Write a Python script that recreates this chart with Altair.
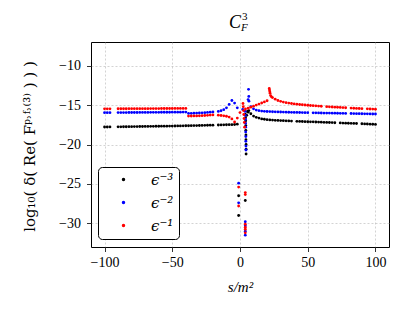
import altair as alt
import pandas as pd

SERIES = ["ϵ⁻³", "ϵ⁻²", "ϵ⁻¹"]
COLORS = ["#000000", "#0000ff", "#ff0000"]

# main sampling grid s/m^2 = -100 .. 100 (step 2)
X_MAIN = list(range(-100, 101, 2))

N = None
BLACK = [
    -17.78, -17.78, -17.77, N, N, -17.76, -17.76, -17.75, -17.75, -17.74,
    -17.74, -17.73, -17.73, -17.72, -17.72, -17.71, -17.71, -17.70, -17.70, -17.69,
    -17.69, -17.68, -17.67, -17.67, -17.66, -17.66, -17.65, -17.64, -17.64, -17.63,
    -17.62, -17.62, -17.61, -17.60, -17.60, -17.59, -17.58, -17.57, -17.56, -17.55,
    -17.55, N, -17.53, -17.52, -17.51, -17.50, -17.49, -17.48, -17.46, -17.42,
    N, N, N,
    -15.90, -16.10, -16.40, -16.55, -16.65, -16.75, -16.80, -16.85, -16.88, -16.90,
    -16.93, -16.95, -16.97, -16.98, -17.00, -17.01, -17.03, N, -17.06, -17.07,
    -17.08, -17.10, -17.11, -17.12, -17.13, -17.15, -17.16, -17.17, -17.19, -17.20,
    -17.21, -17.22, -17.24, N, -17.26, -17.28, -17.29, -17.30, -17.32, -17.33,
    -17.34, N, -17.37, -17.39, -17.40, -17.42, -17.43, -17.45,
]
BLUE = [
    -15.96, -15.96, -15.96, N, N, -15.95, -15.95, -15.95, -15.95, -15.94,
    -15.94, -15.94, -15.94, -15.93, -15.93, -15.93, -15.93, -15.92, -15.92, -15.92,
    -15.92, -15.91, -15.91, -15.91, -15.91, -15.90, -15.90, -15.90, -15.90, -15.89,
    -15.89, -16.06, -16.05, -16.03, -16.02, -16.00, -15.98, -15.96, -15.93, -15.90,
    -15.87, N, -15.80, -15.72, -15.58, -15.35, -14.92, -14.42, -14.75, -15.35,
    N, -15.55, N,
    -14.30, -15.20, -15.48, -15.63, -15.71, -15.76, -15.79, -15.81, -15.83, -15.85,
    -15.86, -15.87, -15.88, -15.89, -15.90, -15.91, -15.92, -15.93, -15.93, -15.94,
    -15.95, -15.96, -15.96, N, -15.98, -15.98, -15.99, -16.00, -16.01, -16.01,
    -16.02, -16.03, -16.03, -16.04, -16.05, -16.05, -16.06, N, -16.07, -16.08,
    -16.09, -16.09, -16.10, -16.11, -16.11, -16.12, -16.13, -16.13,
]
RED = [
    -15.48, -15.48, -15.48, N, N, -15.47, -15.47, -15.47, -15.47, -15.46,
    -15.46, -15.46, -15.46, -15.45, -15.45, -15.45, -15.45, -15.44, -15.44, -15.44,
    -15.44, -15.43, -15.43, -15.43, -15.43, -15.43, -15.42, -15.42, -15.42, -15.42,
    -15.42, -16.40, -16.39, -16.38, -16.37, -16.36, -16.34, -16.32, -16.30, -16.27,
    -16.25, N, -16.28, -16.32, -16.36, -16.42, -16.52, -16.75, -17.15, -16.65,
    -15.95, N, -15.50,
    -15.40, -15.27, -15.14, -15.00, -14.87, -14.74, -14.60, -14.45, -13.30, -14.05,
    -14.25, -14.42, -14.53, -14.62, -14.69, -14.75, -14.80, -14.85, -14.89, -14.93,
    -14.96, -14.99, -15.02, -15.05, -15.08, -15.10, -15.13, -15.15, N, -15.20,
    -15.22, -15.24, -15.26, -15.28, -15.30, -15.32, -15.34, N, -15.38, -15.40,
    -15.42, -15.43, -15.45, N, -15.48, -15.50, -15.51, -15.53,
]

# extra points near the threshold and the isolated low values
BLACK_EX_X = [4.0, 4.1, 4.2, 4.3, 4.3, 4.4, 4.4, 4.5, 4.5, 4.5, 5.0, 5.5, 6.5, -1.0, -1.0, 3.9]
BLACK_EX_Y = [-16.2, -16.6, -17.0, -17.6, -18.2, -18.8, -19.4, -20.0, -20.6, -21.2, -16.3, -15.8, -15.7, -26.5, -29.0, -27.1]
BLUE_EX_X = [3.8, 3.9, 4.0, 4.1, 4.2, 4.2, 4.3, 4.3, 4.4, 4.4, 6.3, 6.5, 6.6,
             -1.0, -1.0, 3.9, 3.9, 3.9, 3.9]
BLUE_EX_Y = [-15.8, -16.3, -16.8, -17.3, -17.8, -18.4, -19.0, -19.6, -20.2, -20.7, -13.0, -13.9, -14.5,
             -24.9, -27.4, -29.8, -30.3, -31.0, -31.5]
RED_EX_X = [2.2, 2.4, 2.6, 2.8, 3.0, 3.2, 3.4, 21.6, 21.8, 22.2, 22.6, 23.2,
            -1.0, -1.0, 3.9, 3.9, 3.9, 3.9, 3.9, 3.9]
RED_EX_Y = [-14.8, -15.2, -15.7, -16.2, -16.7, -17.2, -17.8, -12.9, -13.1, -13.5, -13.8, -13.95,
            -25.4, -27.8, -26.1, -26.35, -30.1, -30.5, -30.75, -31.2]

rows = []
for name, ys, ex_x, ex_y in [
    (SERIES[0], BLACK, BLACK_EX_X, BLACK_EX_Y),
    (SERIES[1], BLUE, BLUE_EX_X, BLUE_EX_Y),
    (SERIES[2], RED, RED_EX_X, RED_EX_Y),
]:
    for x, y in zip(X_MAIN, ys):
        if y is not None:
            rows.append({"s": x, "v": y, "series": name})
    for x, y in zip(ex_x, ex_y):
        rows.append({"s": x, "v": y, "series": name})
df = pd.DataFrame(rows)

FONT = "Liberation Serif"
MFONT = "DejaVu Serif"
W, H = 298, 205

points = alt.Chart(df).mark_circle(size=8, opacity=1).encode(
    x=alt.X("s:Q", scale=alt.Scale(domain=[-110, 110], nice=False, zero=False),
            axis=alt.Axis(values=[-100, -50, 0, 50, 100], title="s/m²",
                          titleFontStyle="italic", titleX=149, titleY=44,
                          titleBaseline="alphabetic", titleFont=FONT, titleFontSize=15)),
    y=alt.Y("v:Q", scale=alt.Scale(domain=[-33, -7], nice=False, zero=False),
            axis=alt.Axis(values=[-10, -15, -20, -25, -30], labelPadding=6,
                          title="log₁₀( δ( Re( Fᵖ˒ᶠ˒⁽³⁾ ) ) )",
                          titleFont=MFONT, titleFontSize=15,
                          titleX=-62, titleY=104, titleBaseline="middle", titleAngle=270)),
    color=alt.Color("series:N", sort=SERIES,
                    scale=alt.Scale(domain=SERIES, range=COLORS),
                    legend=alt.Legend(title=None, orient="none", legendX=7, legendY=125,
                                      strokeColor="black", fillColor="white", cornerRadius=4,
                                      padding=5, symbolType="circle", symbolSize=12,
                                      symbolOffset=13, labelOffset=20, labelFontSize=15,
                                      labelFontStyle="italic",
                                      labelFont=MFONT, rowPadding=7)),
)

def txt(t, x, y, size, style="normal"):
    return alt.Chart(pd.DataFrame({"t": [t]})).mark_text(
        font=FONT, fontSize=size, fontStyle=style, align="left", baseline="alphabetic",
        color="black"
    ).encode(text="t:N", x=alt.value(x), y=alt.value(y))

title = txt("C", 138, -14.5, 18, "italic") + txt("3", 151, -22, 11) + txt("F", 150, -11.5, 11, "italic")

chart = alt.layer(points, title).properties(
    width=W, height=H,
    autosize=alt.AutoSizeParams(type="none"),
    padding={"left": 83, "top": 34, "right": 10, "bottom": 50},
).configure_view(stroke="black", strokeWidth=1).configure_axis(
    labelFont=FONT, labelFontSize=14, labelColor="black",
    titleColor="black", titleFontWeight="normal",
    tickColor="black", tickSize=4.5, tickWidth=0.8, labelPadding=4,
    domain=False, grid=True, gridColor="#b0b0b0", gridWidth=0.7, gridDash=[2, 2],
    gridOpacity=0.8,
)

chart.save("out.html", embed_options={"renderer": "svg", "actions": False})
